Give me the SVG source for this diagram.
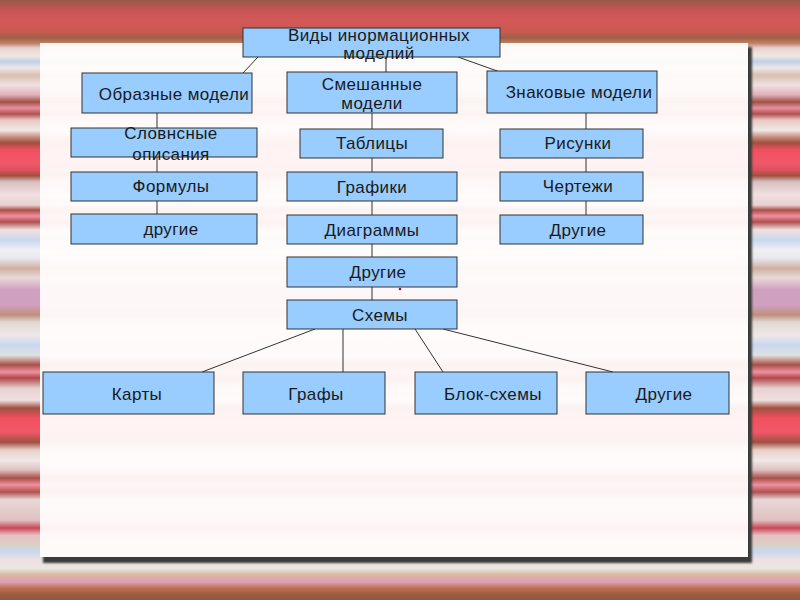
<svg xmlns="http://www.w3.org/2000/svg" width="800" height="600" viewBox="0 0 800 600">
<defs>
<linearGradient id="bg" x1="0" y1="0" x2="0" y2="600" gradientUnits="userSpaceOnUse">
<stop offset="0" stop-color="#985a48"/>
<stop offset="0.017" stop-color="#c85555"/>
<stop offset="0.033" stop-color="#d45858"/>
<stop offset="0.053" stop-color="#c85a50"/>
<stop offset="0.063" stop-color="#a06048"/>
<stop offset="0.072" stop-color="#c08060"/>
<stop offset="0.08" stop-color="#e8d0d0"/>
<stop offset="0.092" stop-color="#f4e8e0"/>
<stop offset="0.103" stop-color="#c0d0e8"/>
<stop offset="0.113" stop-color="#f0e8e8"/>
<stop offset="0.125" stop-color="#d8c0b0"/>
<stop offset="0.142" stop-color="#f0e0e0"/>
<stop offset="0.158" stop-color="#e0b0b8"/>
<stop offset="0.17" stop-color="#a05048"/>
<stop offset="0.18" stop-color="#e890a0"/>
<stop offset="0.19" stop-color="#b05050"/>
<stop offset="0.2" stop-color="#e8c8c0"/>
<stop offset="0.217" stop-color="#f0e8e8"/>
<stop offset="0.228" stop-color="#c89080"/>
<stop offset="0.238" stop-color="#a05040"/>
<stop offset="0.25" stop-color="#f05060"/>
<stop offset="0.27" stop-color="#f05868"/>
<stop offset="0.283" stop-color="#e05060"/>
<stop offset="0.293" stop-color="#a05040"/>
<stop offset="0.303" stop-color="#d8c0c0"/>
<stop offset="0.325" stop-color="#f0e0e0"/>
<stop offset="0.342" stop-color="#e8d0d0"/>
<stop offset="0.35" stop-color="#a85048"/>
<stop offset="0.36" stop-color="#f090a0"/>
<stop offset="0.37" stop-color="#b05050"/>
<stop offset="0.383" stop-color="#f0e0e0"/>
<stop offset="0.4" stop-color="#c8d8f0"/>
<stop offset="0.417" stop-color="#f0f0f0"/>
<stop offset="0.43" stop-color="#e8e8f0"/>
<stop offset="0.447" stop-color="#d0b0a0"/>
<stop offset="0.463" stop-color="#e8d8d8"/>
<stop offset="0.483" stop-color="#d0a0c0"/>
<stop offset="0.508" stop-color="#d0a0c0"/>
<stop offset="0.525" stop-color="#c09080"/>
<stop offset="0.537" stop-color="#e0d8d0"/>
<stop offset="0.558" stop-color="#f0e8e8"/>
<stop offset="0.575" stop-color="#c8d8f0"/>
<stop offset="0.592" stop-color="#e0e0e0"/>
<stop offset="0.608" stop-color="#a85048"/>
<stop offset="0.62" stop-color="#f090a0"/>
<stop offset="0.63" stop-color="#b04848"/>
<stop offset="0.647" stop-color="#e8d0d0"/>
<stop offset="0.667" stop-color="#f0e0e0"/>
<stop offset="0.68" stop-color="#a05040"/>
<stop offset="0.697" stop-color="#f05060"/>
<stop offset="0.72" stop-color="#f05868"/>
<stop offset="0.737" stop-color="#a05040"/>
<stop offset="0.75" stop-color="#e8d0c8"/>
<stop offset="0.767" stop-color="#f0e8e8"/>
<stop offset="0.783" stop-color="#e0c0c0"/>
<stop offset="0.797" stop-color="#a85048"/>
<stop offset="0.808" stop-color="#f090a0"/>
<stop offset="0.82" stop-color="#b05050"/>
<stop offset="0.833" stop-color="#e8d8d8"/>
<stop offset="0.867" stop-color="#e0c0c0"/>
<stop offset="0.88" stop-color="#c84858"/>
<stop offset="0.892" stop-color="#e8c0c0"/>
<stop offset="0.908" stop-color="#d8d0c8"/>
<stop offset="0.92" stop-color="#c8d8f0"/>
<stop offset="0.933" stop-color="#f0e0e0"/>
<stop offset="0.947" stop-color="#e8e8e0"/>
<stop offset="0.958" stop-color="#d8b8a0"/>
<stop offset="0.97" stop-color="#e0a0b8"/>
<stop offset="0.98" stop-color="#c07050"/>
<stop offset="0.992" stop-color="#985a40"/>
<stop offset="1" stop-color="#905840"/>
</linearGradient>
<filter id="blur" x="-5%" y="-5%" width="110%" height="110%"><feGaussianBlur stdDeviation="1.2"/></filter>
</defs>
<style>
.box{fill:#99ccff;stroke:#333;stroke-width:1}
.t{font-family:"Liberation Sans",Arial,sans-serif;font-size:17px;letter-spacing:0.4px;fill:#1a1a1a;text-anchor:middle}
.c line{stroke:#333;stroke-width:1}
</style>
<rect x="0" y="0" width="800" height="600" fill="url(#bg)"/>
<g id="panel">
<rect x="43" y="47" width="709" height="516" fill="#3a3a3a" filter="url(#blur)"/>
<rect x="40" y="43" width="708" height="514" fill="url(#bg)"/>
<rect x="40" y="43" width="708" height="514" fill="#fffcfb" opacity="0.95"/>
</g>
<g class="c" id="connectors">
<line x1="258" y1="57" x2="243" y2="73"/>
<line x1="386" y1="57" x2="386" y2="72"/>
<line x1="458" y1="57" x2="500" y2="72"/>
<line x1="157" y1="113" x2="157" y2="214"/>
<line x1="372" y1="113" x2="372" y2="300"/>
<line x1="586" y1="113" x2="586" y2="215"/>
<line x1="315" y1="329" x2="202" y2="372"/>
<line x1="343" y1="329" x2="343" y2="372"/>
<line x1="415" y1="329" x2="443" y2="372"/>
<line x1="443" y1="329" x2="613" y2="372"/>
</g>
<circle cx="400" cy="289" r="1.3" fill="#8b1a2a"/>
<g id="n-root"><rect class="box" x="243" y="28" width="257" height="29"/><text class="t" x="379" y="41">Виды инормационных</text><text class="t" x="379" y="59">моделий</text></g>
<g id="n-obraz"><rect class="box" x="82" y="73" width="170" height="40"/><text class="t" x="174" y="100">Образные модели</text></g>
<g id="n-mixed"><rect class="box" x="287" y="72" width="170" height="41"/><text class="t" x="372" y="90">Смешанные</text><text class="t" x="372" y="109">модели</text></g>
<g id="n-znak"><rect class="box" x="487" y="71" width="170" height="42"/><text class="t" x="579" y="98">Знаковые модели</text></g>
<g id="n-slov"><rect class="box" x="71" y="128" width="186" height="29"/><text class="t" x="171" y="139">Словнсные</text><text class="t" x="171" y="160">описания</text></g>
<g id="n-tabl"><rect class="box" x="300" y="129" width="143" height="29"/><text class="t" x="372" y="149">Таблицы</text></g>
<g id="n-ris"><rect class="box" x="500" y="129" width="143" height="29"/><text class="t" x="578" y="149">Рисунки</text></g>
<g id="n-form"><rect class="box" x="71" y="172" width="186" height="29"/><text class="t" x="171" y="192">Формулы</text></g>
<g id="n-graf"><rect class="box" x="287" y="172" width="170" height="29"/><text class="t" x="372" y="193">Графики</text></g>
<g id="n-cher"><rect class="box" x="500" y="172" width="143" height="29"/><text class="t" x="578" y="192">Чертежи</text></g>
<g id="n-dr1"><rect class="box" x="71" y="214" width="186" height="30"/><text class="t" x="171" y="235">другие</text></g>
<g id="n-diag"><rect class="box" x="287" y="215" width="170" height="29"/><text class="t" x="372" y="236">Диаграммы</text></g>
<g id="n-dr3"><rect class="box" x="500" y="215" width="143" height="29"/><text class="t" x="578" y="236">Другие</text></g>
<g id="n-dr2"><rect class="box" x="287" y="257" width="170" height="30"/><text class="t" x="378" y="278">Другие</text></g>
<g id="n-skh"><rect class="box" x="287" y="300" width="170" height="29"/><text class="t" x="380" y="321">Схемы</text></g>
<g id="n-karty"><rect class="box" x="43" y="372" width="171" height="42"/><text class="t" x="137" y="400">Карты</text></g>
<g id="n-grafy"><rect class="box" x="243" y="372" width="142" height="42"/><text class="t" x="316" y="400">Графы</text></g>
<g id="n-blok"><rect class="box" x="415" y="372" width="142" height="42"/><text class="t" x="493" y="400">Блок-схемы</text></g>
<g id="n-dr4"><rect class="box" x="586" y="372" width="143" height="42"/><text class="t" x="664" y="400">Другие</text></g>
</svg>
